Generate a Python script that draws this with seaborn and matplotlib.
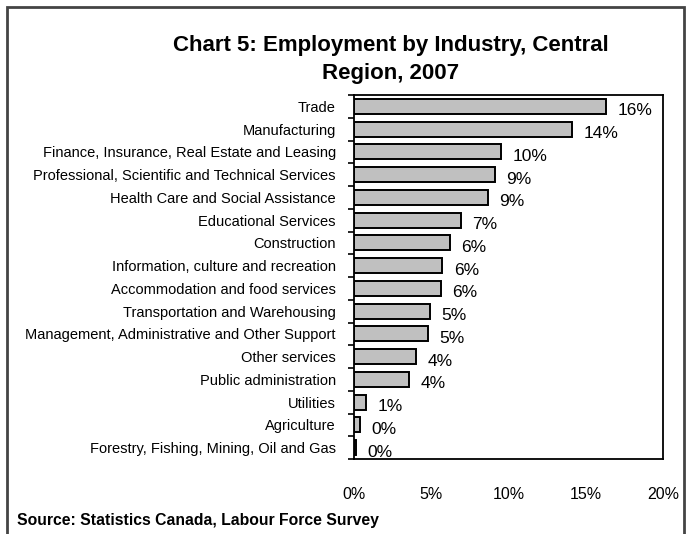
import matplotlib
matplotlib.use("Agg")
import matplotlib.pyplot as plt
from matplotlib.patches import Rectangle
from matplotlib.ticker import FixedLocator, PercentFormatter
import seaborn as sns
import pandas as pd

industries = [
    "Trade",
    "Manufacturing",
    "Finance, Insurance, Real Estate and Leasing",
    "Professional, Scientific and Technical Services",
    "Health Care and Social Assistance",
    "Educational Services",
    "Construction",
    "Information, culture and recreation",
    "Accommodation and food services",
    "Transportation and Warehousing",
    "Management, Administrative and Other Support",
    "Other services",
    "Public administration",
    "Utilities",
    "Agriculture",
    "Forestry, Fishing, Mining, Oil and Gas",
]
share_pct = [16.3, 14.1, 9.5, 9.1, 8.65, 6.9, 6.2, 5.7, 5.6, 4.9, 4.8, 4.0, 3.56, 0.76, 0.39, 0.1]
x_ticks = [0, 5, 10, 15, 20]

df = pd.DataFrame({"industry": industries, "share": share_pct})

sns.set_style("white")
plt.rcParams["font.family"] = ["Liberation Sans", "DejaVu Sans"]
plt.rcParams["text.color"] = "black"
plt.rcParams["xtick.color"] = "black"
plt.rcParams["ytick.color"] = "black"
plt.rcParams["xtick.labelcolor"] = "black"
plt.rcParams["ytick.labelcolor"] = "black"

fig = plt.figure(figsize=(6.87, 5.34), dpi=100)
ax = fig.add_axes([354 / 687, 1 - 459 / 534, (663 - 354) / 687, (459 - 95) / 534])

sns.barplot(data=df, x="share", y="industry", orient="h", color="#c0c0c0",
            edgecolor="black", linewidth=1.4, width=0.66, saturation=1, ax=ax)

ax.set_xlim(0, 20)
ax.set_ylim(len(industries) - 0.5, -0.5)
ax.set_xlabel("")
ax.set_ylabel("")

for s in ax.spines.values():
    s.set_color("black")
    s.set_linewidth(1.3)

ax.xaxis.set_major_locator(FixedLocator(x_ticks))
ax.xaxis.set_major_formatter(PercentFormatter(decimals=0))
ax.tick_params(axis="x", length=0, pad=20, labelsize=11.5)
ax.tick_params(axis="y", which="major", length=0, pad=13, labelsize=10.5)
ax.yaxis.set_minor_locator(FixedLocator([i - 0.5 for i in range(len(industries) + 1)]))
ax.tick_params(axis="y", which="minor", length=4, width=1.2, color="black", left=True)

for i, v in enumerate(share_pct):
    ax.text(v + 0.75, i + 0.2, f"{v:.0f}%", ha="left", va="center", fontsize=12.5)

fig.text(391 / 687, 1 - 45 / 534, "Chart 5: Employment by Industry, Central", ha="center",
         va="center", fontsize=16, fontweight="bold")
fig.text(391 / 687, 1 - 73 / 534, "Region, 2007", ha="center", va="center",
         fontsize=16, fontweight="bold")
fig.text(17 / 687, 1 - 520 / 534, "Source: Statistics Canada, Labour Force Survey",
         ha="left", va="center", fontsize=11.3, fontweight="bold")

fig.patches.append(Rectangle((7 / 687, -0.05), (684 - 7) / 687, 1 - 7 / 534 + 0.05,
                             transform=fig.transFigure, fill=False,
                             edgecolor="#444444", linewidth=2))

fig.savefig("out.png", dpi=100)
